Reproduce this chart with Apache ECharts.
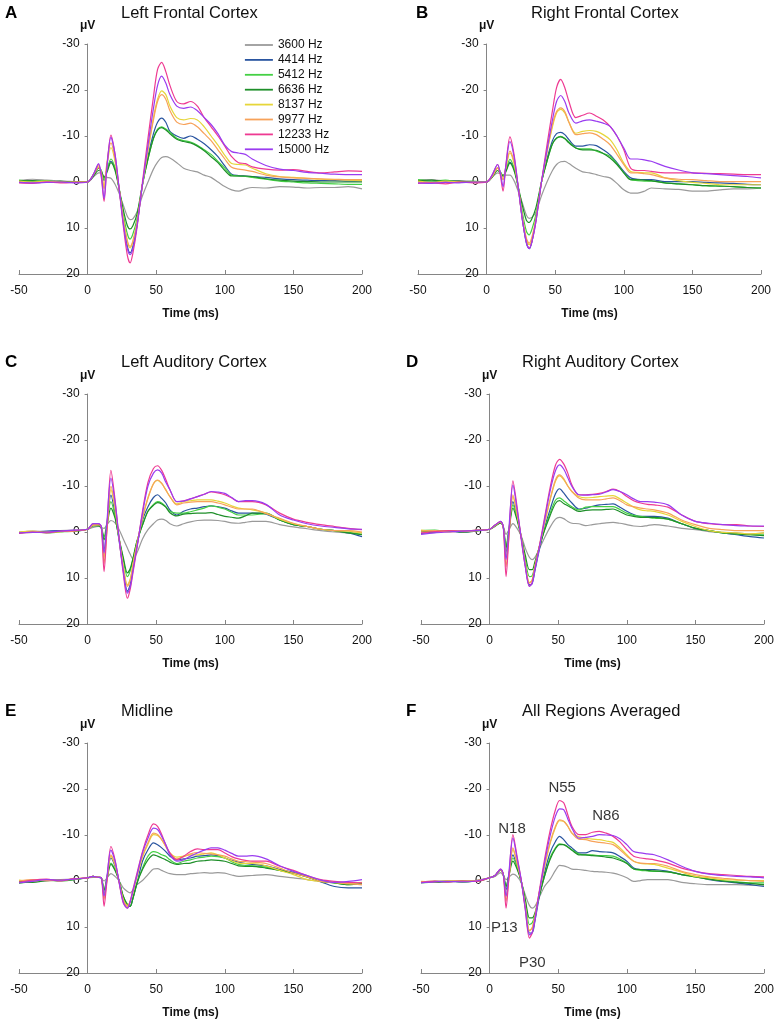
<!DOCTYPE html>
<html>
<head>
<meta charset="utf-8">
<script src="https://cdn.jsdelivr.net/npm/echarts@6/dist/echarts.min.js"></script>
<style>
html,body{margin:0;padding:0;background:#fff;}
#chart{width:778px;height:1023px;}
</style>
</head>
<body>
<div id="chart"></div>
<script>
// ---------- DATA ----------
const time = [-50,-40,-30,-20,-10,0,4,8,10,12,14,17,20,23,26,29,31,33,36,40,44,48,51,54,57,60,65,70,75,80,85,90,95,100,105,110,115,120,130,140,150,160,170,180,190,200];

const frequencies = ['3600 Hz','4414 Hz','5412 Hz','6636 Hz','8137 Hz','9977 Hz','12233 Hz','15000 Hz'];

const xTicks = [-50, 0, 50, 100, 150, 200];
const yTicks = [-30, -20, -10, 0, 10, 20];

// each panel: one array per frequency, in the order of `frequencies`, values in µV at `time`
const leftFrontal = [
  [-0.3,-0.6,-0.4,-0.2,-0.1, 0,-1,-2,-2,-1.2,-1,-0.8,0.5,2.5,5,7.5,8.2,8,6.5,3,0,-2.8,-4.3,-5.3,-5.5,-5.2,-4.2,-3,-2.5,-2.2,-1.5,-1,0,1,1.7,2,1.5,1.2,1.3,1,1.1,1.3,1.2,1.2,1,1.5],
  [0,-0.2,0.1,-0.1,0, 0,-1.2,-3,-2.5,-0.3,-2.5,-4.5,-3,1.5,8.5,14,15.4,14,9.5,0.5,-5.5,-10.5,-13,-13.9,-13,-11,-10,-9.5,-10,-9.3,-8.3,-7,-5.5,-3.5,-1.7,-1.4,-1.3,-1.2,-1,-0.7,-0.5,-0.4,-0.3,-0.3,-0.2,-0.2],
  [-0.4,-0.2,-0.3,0,-0.1, 0,-1.5,-3,-2.5,-0.5,-2.5,-5,-3,1.5,7,11.3,12.4,11.3,8,0.5,-5,-9.5,-11.5,-12,-11.5,-10.8,-9.5,-9,-8.7,-8,-7,-6,-4.5,-3,-1.5,-1.3,-1.2,-1,-0.6,-0.2,0,0.2,0.3,0.4,0.5,0.5],
  [-0.2,-0.3,0,-0.2,0, 0,-1.2,-2.5,-2.2,-1,-2,-4.2,-2.5,1.5,6,9.5,10.2,9.5,7,0.5,-5,-9.5,-11.3,-11.8,-11.3,-10.5,-9.3,-8.8,-8.5,-7.8,-6.8,-5.5,-4.2,-2.5,-1.3,-1.3,-1.3,-1.2,-0.7,-0.4,-0.2,-0.1,0,0,0,0],
  [-0.2,0,-0.2,0.1,0, 0,-1.5,-3.5,-2,1,-3.5,-7.5,-4.5,1.5,8,13,14.3,13,9,0.5,-7,-14,-18,-19.8,-19,-16.5,-14,-13.5,-13.8,-13.5,-12,-10,-8,-5.8,-4,-3.8,-3.7,-3,-1.8,-1.2,-1,-0.8,-0.6,-0.5,-0.4,-0.3],
  [0,0.2,-0.1,0,0.1, 0,-1.5,-3.2,-2,1.5,-4,-8.5,-5,1.5,8,12.8,14,12.8,8.8,0.5,-7,-13.5,-17.5,-19,-18,-15.5,-13,-12.5,-12.8,-12,-10.5,-9,-7,-5,-3.2,-2.8,-2.6,-2.3,-1.5,-1.1,-0.9,-0.8,-0.7,-0.6,-0.5,-0.5],
  [0.2,0.3,0,0.2,0.1, 0,-1.5,-3.8,-1,4.2,-3,-10.2,-6,1.5,9.5,16,17.6,15.5,10,0,-9.5,-18.5,-24.5,-26,-24,-21,-17.5,-17,-17.5,-16.5,-14,-12,-10,-7.8,-5.5,-4.2,-4,-3.3,-2.8,-2.6,-2.7,-2.3,-2,-2.2,-2.4,-2.3],
  [0.1,0.2,0.1,0,0.2, 0,-1.5,-4,-1.5,3.6,-3,-9.7,-6,1.5,9,14.5,15.8,14.5,9.5,0.5,-8,-16,-21,-23,-21.5,-19,-16.5,-16,-16.3,-15.5,-14,-12.5,-10.5,-8,-6.6,-6.3,-6,-5,-3.6,-2.8,-2.5,-2.1,-1.9,-1.7,-1.6,-1.6]
];

const rightFrontal = [
  [-0.3,-0.5,-0.2,-0.3,-0.1, 0,-1,-2,-1.8,-1.5,-1.5,-1.5,-0.3,2,4.5,7.2,7.9,7.7,6.5,3,0,-2.5,-3.8,-4.4,-4.5,-4,-3,-2.2,-2,-1.6,-1.2,-0.9,0.3,1.7,2.4,2.4,2,1.3,1.5,1.6,2,2,1.7,1.5,1.5,1.3],
  [-0.2,0,-0.3,-0.1,0, 0,-1.2,-3,-2.2,-1.2,-2.5,-4.3,-3,1,8,13.3,14.5,13,8,0,-5,-9,-10.5,-10.8,-10.3,-9.2,-7.8,-7.8,-8.1,-7.9,-7,-5.9,-4.2,-2.3,-0.9,-0.6,-0.5,-0.5,-0.1,-0.1,-0.1,0.1,0.2,0.3,0.5,0.6],
  [-0.5,-0.2,-0.4,0,-0.2, 0,-1.2,-3,-2.2,-1.3,-2.5,-4.9,-3,1,6.5,10.7,11.5,10.3,7,0,-4.5,-8.3,-9.6,-9.9,-9.5,-8.7,-7.4,-7.2,-7.2,-6.7,-6.2,-5.6,-4,-2,-0.5,-0.3,-0.2,-0.2,0.2,0.4,0.6,0.8,0.9,1,1.2,1.3],
  [-0.3,-0.4,-0.1,-0.2,0, 0,-1,-2.5,-2,-1.3,-2.2,-4.1,-2.5,1,5,8.3,8.8,8,5.5,0,-4.5,-8.3,-9.5,-9.8,-9.4,-8.5,-7.4,-7,-7,-6.9,-6.2,-5.2,-3.8,-2,-0.5,-0.5,-0.4,-0.3,0.2,0.4,0.6,0.8,0.9,1,1.2,1.3],
  [-0.2,0.1,-0.2,0,0.1, 0,-1.2,-3,-2,-0.5,-3,-6.3,-4,1,7.5,12.5,13.6,12.5,8,0,-6.5,-12,-15,-15.8,-15,-13,-10.6,-11,-11.2,-11,-10.3,-9.2,-7,-4.1,-2.3,-2.1,-2,-2,-0.9,-0.3,0.1,0.3,0.6,0.6,0.6,0.6],
  [0,0.2,0,0.1,0, 0,-1.2,-3,-2,-0.5,-3.2,-6.7,-4.5,1,7.5,12.2,13.3,12,8,0,-6.5,-12.5,-15.3,-16.1,-15.3,-13,-10.3,-10.5,-10.7,-10.3,-9.3,-8.1,-6,-3.8,-2,-2,-1.8,-1.6,-0.9,-0.6,-0.5,-0.3,-0.1,-0.1,-0.1,-0.1],
  [0.3,0.2,0.4,0,0.2, 0,-1.5,-3.8,-1.5,2,-3.5,-9.8,-6,1,8,13,14.3,13,8.5,0,-8,-15.5,-20.5,-22.3,-20.5,-17.5,-14,-14.5,-15,-14.3,-13.5,-12.1,-10,-7,-3,-2.5,-2.5,-2.3,-2,-2,-2,-1.9,-1.8,-1.7,-1.6,-1.6],
  [0.2,0.3,0.1,0.2,0, 0,-1.5,-3.8,-2,1,-3.5,-8.8,-5.5,1,8,13.2,14.5,13,8.5,0,-7,-13.5,-17.5,-18.8,-17.5,-15,-12.8,-13.3,-13.5,-13.2,-12.8,-12.1,-10,-7.4,-5,-5,-4.8,-4.5,-3.4,-2.6,-2,-1.8,-1.6,-1.4,-1.2,-0.9]
];

const leftAuditory = [
  [0.1,-0.2,-0.1,-0.3,-0.4, -0.6,-1,-1.2,-1,-0.8,-1.5,-2.5,-2,-0.5,1.5,3.5,4.8,5.8,4.5,1.5,-0.5,-1.8,-2.6,-2.8,-2.5,-1.8,-1.3,-1.8,-2.2,-2.5,-2.6,-2.6,-2.5,-2.3,-2,-1.9,-2.1,-2.3,-2.3,-1.6,-1.1,-0.7,-0.3,0,0.2,0.2],
  [0.2,0,-0.2,-0.3,-0.3, -0.6,-1.5,-1.5,-1,3.9,-0.9,-8,-4,2,8,12.9,11.5,8,3,-2.5,-5.5,-7.5,-8.1,-7.3,-6.3,-4.8,-3.7,-4.5,-5,-5.2,-5.5,-5.7,-5.5,-5.2,-4.6,-4.1,-4.1,-4.1,-3.9,-2.6,-1.6,-1.2,-0.6,-0.3,0.2,1],
  [0.1,-0.1,0.2,0,-0.2, -0.6,-1.5,-1.5,-1,1,-2,-6.6,-3.5,1.5,6,9.7,8.5,6,2,-1.5,-4.5,-6,-6.6,-6.3,-5.5,-4.5,-4.1,-4.1,-4.4,-4.8,-5.2,-5.7,-5.4,-5,-4.3,-3.7,-3.7,-3.7,-4,-2.6,-1.6,-1.2,-0.6,-0.3,0.1,0.5],
  [0.2,0,0.1,-0.2,-0.2, -0.6,-1.3,-1.3,-0.8,1.7,-1.1,-5.2,-3,1.5,5.5,8.9,8,5.8,2,-1.5,-4.5,-5.8,-6.4,-6.1,-5.4,-4.2,-3.5,-3.9,-4,-4.1,-4.1,-4.2,-3.8,-3.4,-3.2,-3,-3.5,-4.1,-4.1,-2.6,-1.6,-1.2,-0.6,-0.3,0.2,0.6],
  [0,-0.2,0.1,-0.1,-0.3, -0.6,-1.5,-1.6,-1.2,5.5,-0.4,-9.2,-5,1.5,7.5,11.5,10.3,7.2,2.5,-3,-7.5,-10.5,-11.2,-10.5,-9.2,-7.7,-6.1,-6.6,-6.8,-7,-7,-7,-6.7,-6.3,-5.7,-5.2,-5,-4.8,-4.1,-2.8,-1.8,-1.2,-0.6,-0.3,-0.2,0.2],
  [0.2,0.1,0,-0.1,-0.2, -0.6,-1.5,-1.6,-1.2,6.8,0.1,-9.9,-5.5,1.5,7.5,11.8,10.5,7.3,2.5,-3,-7.3,-10.5,-11.3,-10.6,-9.1,-7.7,-5.9,-6.3,-6.5,-6.6,-6.6,-6.6,-6.3,-5.9,-5.4,-5,-5,-5,-4,-3,-1.9,-1.2,-0.6,-0.3,-0.3,0],
  [0.3,0,0.2,-0.2,-0.3, -0.6,-1.8,-1.8,-1,8.6,-0.2,-13.4,-7,1.5,9,14.4,12.5,9,3.5,-4.5,-10.8,-13.8,-14.4,-13.4,-11.4,-9.2,-6.6,-6.8,-7.2,-7.7,-8.2,-8.7,-8.5,-8.1,-7.4,-6.6,-6.6,-6.6,-5.9,-4.1,-2.8,-2.1,-1.6,-1.2,-0.8,-0.5],
  [0.2,0.1,0,-0.2,-0.4, -0.6,-1.8,-1.8,-1.2,4.6,-1.9,-11.7,-6.5,1.5,8.5,13.3,12,8.5,3.2,-4,-10,-12.8,-13.5,-12.8,-10.8,-9.2,-6.6,-6.7,-7.2,-7.7,-8.2,-8.8,-8.7,-8.4,-7.5,-6.6,-6.8,-6.8,-6,-3.7,-2.6,-1.8,-1.3,-1,-0.7,-0.6]
];

const rightAuditory = [
  [-0.2,0,-0.3,-0.2,-0.4, -0.6,-1.2,-2,-1.2,0.5,-0.4,-1.8,-0.8,0.8,3.5,5.5,6,5.5,3.8,1.3,-1,-2.8,-3.2,-2.9,-2.3,-1.9,-1.8,-1.4,-1.6,-1.8,-2,-2.1,-1.9,-1.6,-1.3,-1.2,-1.4,-1.6,-1.3,-0.8,-0.5,-0.1,0.1,0.2,0.4,0.2],
  [0.3,0,-0.2,0.1,-0.3, -0.6,-1.4,-2.2,-1,4.5,0.1,-6.6,-3.3,1,7,11.5,11.2,8.5,4.2,-0.8,-4.8,-8.3,-9.4,-8.5,-7.3,-6.3,-5,-5.2,-5.6,-5.9,-6,-6.1,-5.4,-4.5,-3.8,-3.4,-3.4,-3.4,-3,-1.8,-0.8,-0.3,0.2,0.6,1,1.3],
  [-0.3,-0.4,-0.1,-0.2,-0.3, -0.6,-1.4,-2,-1,3,-0.6,-5.9,-3,1,6,9.7,9.5,7.5,3.5,-0.5,-4,-6.9,-7.4,-6.8,-6.1,-5.5,-4.8,-5.4,-5.5,-5.5,-5.5,-5.5,-4.9,-4.1,-3.6,-3.4,-3.2,-3,-2.8,-1.8,-0.8,-0.3,0.2,0.4,0.6,0.6],
  [-0.2,-0.1,-0.3,0,-0.2, -0.6,-1.3,-2,-1,3.5,0,-5.2,-2.6,1,5,8.2,8.2,6.5,3.5,-0.3,-3.5,-6.2,-6.8,-6.2,-5.7,-5.2,-4.5,-4.7,-4.8,-4.8,-4.9,-5,-4.4,-3.7,-3.4,-3.2,-3.2,-3.2,-2.8,-1.8,-0.8,-0.3,0.2,0.4,0.6,0.8],
  [-0.4,-0.2,-0.3,-0.1,-0.3, -0.6,-1.4,-2.2,-1.2,5.5,0.2,-7.7,-3.8,1,7,11,10.5,7.5,3.5,-1.8,-6.8,-11,-12.2,-11.4,-10,-8.8,-7.7,-7.4,-7.5,-7.7,-7.8,-7.9,-7.2,-6.3,-5.4,-4.8,-4.6,-4.5,-3.7,-2.3,-1.2,-0.3,0.1,0.2,0.4,0.2],
  [-0.2,-0.3,0,-0.2,-0.3, -0.6,-1.5,-2.2,-1,7.5,1.3,-8.1,-4,1,7,11.1,10.5,7.5,3.5,-1.8,-7,-11.3,-12.4,-11.6,-10,-8.8,-7.4,-7,-7,-7,-7.2,-7.4,-6.8,-5.9,-5.5,-5.2,-5,-4.8,-4.1,-2.6,-1.6,-0.8,-0.5,-0.3,-0.3,-0.3],
  [0.2,-0.1,-0.3,-0.2,-0.4, -0.6,-1.5,-2.3,-1,9.7,1.4,-11.1,-5.5,1.5,7.5,11.8,11,8,3.5,-3,-9.5,-14.5,-15.8,-14.8,-12.8,-10.2,-8.1,-8.1,-8.2,-8.4,-8.8,-9.3,-8.8,-7.7,-6.8,-6.3,-6,-5.9,-5.4,-3.7,-2.3,-1.8,-1.6,-1.6,-1.3,-1.2],
  [0.5,0.2,0,-0.2,-0.3, -0.6,-1.5,-2.3,-1.2,6,-0.5,-10.2,-5,1.2,7.5,11.8,11.2,8.2,3.8,-2.5,-8.8,-13.3,-14.6,-13.7,-11.8,-9.9,-8.1,-8,-8.1,-8.2,-8.7,-9.2,-8.8,-8.1,-7.2,-6.6,-6.6,-6.5,-5.9,-3.7,-2.3,-1.9,-1.6,-1.4,-1.3,-1.3]
];

const midline = [
  [0.2,-0.2,0,-0.3,-0.4, -0.7,-0.8,-0.8,-0.5,0,-0.6,-1.6,-1,0,1.5,2.3,2.6,2,0.8,-0.1,-1.4,-2.6,-2.7,-2.3,-1.9,-1.6,-1.4,-1.4,-1.6,-1.7,-1.8,-1.7,-1.8,-1.7,-1.3,-1,-1.1,-1.2,-1.4,-1,-0.7,-0.3,0.1,0.3,0.5,0.8],
  [0.3,0,-0.2,-0.1,-0.4, -0.7,-1,-0.8,-0.7,3,-0.6,-5,-3.2,0,4,5.3,5.5,3.8,0.5,-4.3,-6.8,-8.3,-7.9,-7.2,-6.4,-5.4,-4.6,-4.8,-5,-5.4,-5.5,-5.7,-5.5,-5,-4.5,-4.1,-3.8,-3.6,-3.3,-2.5,-1.9,-1,0.2,1.2,1.5,1.5],
  [0.5,0.1,-0.2,0,-0.3, -0.7,-1,-0.8,-0.7,1.9,-0.5,-3.9,-2.5,0,3.3,5,5.5,3.7,0.4,-2.8,-5.4,-6.4,-6.2,-5.7,-5.4,-4.6,-3.8,-4.3,-4.6,-5,-5.2,-5.4,-5.3,-5,-4.2,-3.6,-3.4,-3.3,-3,-2.3,-1.7,-0.9,0.1,0.4,0.8,0.5],
  [0.2,0.3,-0.1,-0.2,-0.3, -0.7,-1,-0.8,-0.7,2,-0.2,-3.6,-2.3,0,3.3,5.2,5.5,3.8,0.5,-2.5,-4.6,-5.7,-5.4,-5,-4.6,-4.1,-3.6,-3.8,-3.9,-4.3,-4.4,-4.6,-4.5,-4.3,-3.8,-3.3,-3.2,-3.2,-2.8,-2.3,-1.7,-0.9,0.1,0.4,0.8,0.6],
  [-0.2,0,-0.3,-0.1,-0.5, -0.7,-1,-0.8,-0.7,3.5,-0.1,-5.4,-3.5,0.2,4,5.3,4.5,2.5,-1,-5.2,-8,-10.1,-9.9,-9,-7.5,-6.1,-5.2,-5.4,-5.7,-5.7,-5.9,-6.1,-5.7,-5,-4.4,-3.9,-3.8,-3.8,-3.3,-2.3,-1.4,-0.3,0.1,0.3,0.6,0.3],
  [0,-0.3,-0.1,-0.2,-0.4, -0.7,-1,-0.8,-0.7,4,0.1,-5.7,-3.6,0.2,4.2,5.5,4.5,2.5,-1,-5.4,-8.3,-10.4,-10.1,-9,-7.5,-6,-4.8,-5.3,-5.9,-6.2,-6,-5.9,-5.7,-5.4,-4.8,-4.3,-4.2,-4.1,-3.8,-2.8,-1.7,-0.9,0.1,0.3,0.6,0.8],
  [0.3,-0.2,-0.4,0,-0.5, -0.7,-1,-0.8,-0.7,5.5,0.3,-7.5,-4.6,0.4,4.8,5.9,4.4,1.9,-1.7,-6.4,-10,-12.4,-11.9,-10.1,-7.9,-6.1,-4.6,-5.4,-6.4,-7,-6.8,-6.8,-6.8,-6.1,-5.3,-4.8,-4.5,-4.3,-4.3,-3.2,-2.3,-1.2,-0.3,0.1,0.3,0.4],
  [0.4,0.1,-0.3,-0.2,-0.4, -0.7,-1,-0.8,-0.7,3.3,-0.7,-6.7,-4.3,0.3,4.6,5.9,4.6,2.2,-1.3,-6.1,-9.3,-11.5,-11.2,-9.7,-7.9,-5.7,-4.3,-4.6,-5.4,-6.1,-6.7,-7.2,-7.2,-6.7,-6,-5.4,-5.4,-5.5,-4.8,-3.3,-2.1,-1.2,-0.2,0.3,0.1,-0.3]
];

const allRegions = [
  [0.2,0,0.3,-0.1,0, -0.7,-1,-1.8,-1.2,-0.3,-0.8,-1.5,-1,0.4,3,5.3,5.9,5.5,3.7,1.2,-0.3,-2.3,-3.4,-3.3,-3,-2.6,-2.5,-2.3,-2.1,-2,-1.9,-1.7,-1.3,-0.7,0.1,-0.1,-0.3,-0.3,-0.3,0.3,0.6,0.8,0.8,0.8,0.9,0.9],
  [0.3,0.1,0,0.2,-0.1, -0.7,-1.2,-2.5,-1.4,1.9,-1.2,-5.7,-3.3,0,5.1,11.3,11.3,8.8,3.8,-1.7,-6.1,-8.6,-9.7,-9,-7.9,-7.2,-6.1,-6.1,-6.6,-6.4,-6.3,-6.1,-5.3,-4.3,-2.8,-2.5,-2.5,-2.5,-2.1,-1.4,-1,-0.3,0.1,0.4,0.8,1.2],
  [0.4,0.2,0,0.3,0, -0.7,-1.2,-2.5,-1.4,1.2,-1.3,-5,-3,0,4.1,9.5,9.1,7.5,3.5,-1,-5,-7.2,-8.1,-7.9,-7.4,-6.8,-5.9,-5.7,-5.7,-5.5,-5.5,-5.4,-4.8,-3.9,-2.6,-2.3,-2.2,-2.1,-2,-1.4,-0.9,-0.4,-0.1,0.2,0.4,0.4],
  [0.2,0.3,0.1,0,0.1, -0.7,-1.2,-2.4,-1.4,1.2,-1,-4.3,-2.6,0,4,8,8,7,3.5,-1,-4.6,-7,-7.9,-7.9,-7.4,-6.7,-5.7,-5.7,-5.5,-5.4,-5.2,-5,-4.5,-3.8,-2.6,-2.5,-2.3,-2.2,-2,-1.4,-0.9,-0.4,0,0.3,0.5,0.8],
  [0.1,0.2,-0.1,0,0, -0.7,-1.2,-2.5,-1.4,3.3,-0.7,-6.8,-3.8,-0.2,5.5,10.7,10.2,7.8,2.8,-3,-8,-11.6,-13.1,-13,-11.9,-10.4,-9.6,-9.3,-9.1,-9,-8.7,-8.4,-7.2,-5.7,-4.3,-3.8,-3.7,-3.6,-2.8,-1.9,-1,-0.7,-0.3,-0.2,-0.1,-0.1],
  [0.2,0,0.1,0.1,-0.1, -0.7,-1.2,-2.5,-1.4,4.4,-0.3,-7.2,-4,-0.2,5.5,10.9,10.2,7.8,2.8,-3.2,-8.3,-11.9,-13.3,-13,-11.9,-10.4,-9.1,-9,-8.6,-8.4,-8.2,-7.9,-6.8,-5.4,-4.3,-3.9,-3.8,-3.8,-3.2,-2.1,-1.4,-0.9,-0.6,-0.3,-0.1,0.1],
  [0.3,0.1,0.2,0,0.1, -0.7,-1.2,-2.6,-1.4,5.9,-0.5,-10.1,-5.4,-0.3,6.2,12.4,11.3,8.4,2.6,-4.6,-10.8,-15.5,-17.5,-17,-14.4,-11.9,-10.1,-10.1,-10.6,-10.8,-10.4,-9.7,-8.5,-6.8,-5.4,-5,-4.8,-4.6,-3.9,-2.8,-2.1,-1.6,-1.4,-1.2,-1,-0.9],
  [0.4,0.2,0.1,0.2,0, -0.7,-1.2,-2.6,-1.4,3.3,-1.7,-9.3,-5,-0.3,6,11.7,11.2,8.5,3,-3.9,-9.7,-14.1,-15.7,-15.5,-13.5,-11.5,-9.3,-9.5,-9.7,-10.1,-10,-9.9,-9.2,-7.9,-6.4,-6.1,-5.9,-5.7,-4.6,-3.2,-2.1,-1.5,-1.2,-1,-0.9,-0.7]
];

// peak labels of panel F: [text, time (ms), µV]
const peakNames = ['N18', 'N55', 'N86', 'P13', 'P30'];
const peakTimes = [16.3, 52.9, 84.8, 10.7, 31.1];
const peakValues = [-11.4, -20.3, -14.2, 10.1, 17.8];

// ---------- STYLE / LAYOUT ----------
const colors = ['#9a9a9a','#2a55a0','#44d044','#1f8f2a','#e6d63a','#f7a25a','#ee3a92','#9a3cf0'];
const FONT = '"Liberation Sans", Arial, sans-serif';

const panels = [
  {data: leftFrontal,   letter:'A', title:'Left Frontal Cortex',   grid:{left:19,  top:44}, letterX:5,   titleX:121, rowY:13},
  {data: rightFrontal,  letter:'B', title:'Right Frontal Cortex',  grid:{left:418, top:44}, letterX:416, titleX:531, rowY:13},
  {data: leftAuditory,  letter:'C', title:'Left Auditory Cortex',  grid:{left:19,  top:394}, letterX:5,  titleX:121, rowY:362},
  {data: rightAuditory, letter:'D', title:'Right Auditory Cortex', grid:{left:421, top:394}, letterX:406, titleX:522, rowY:362},
  {data: midline,       letter:'E', title:'Midline',               grid:{left:19,  top:743}, letterX:5,  titleX:121, rowY:711},
  {data: allRegions,    letter:'F', title:'All Regions Averaged',  grid:{left:421, top:743}, letterX:406, titleX:522, rowY:711}
];
const GW = 343, GH = 230;
// pixel offset of the y axis (it sits at time 0)
const xMin = xTicks[0], xMax = xTicks[xTicks.length-1];
const yAxisShift = (0 - xMin) / (xMax - xMin) * GW;

const axisColor = '#858585';
const grids = [], xAxes = [], yAxes = [], series = [], graphics = [];

panels.forEach((p, i) => {
  grids.push({left: p.grid.left, top: p.grid.top, width: GW, height: GH,
              containLabel: false, outerBoundsMode: 'none'});
  xAxes.push({
    type: 'value', gridIndex: i, min: xMin, max: xMax,
    interval: xTicks[1]-xTicks[0],
    axisLine: {show: true, onZero: false, lineStyle: {color: axisColor, width: 1}},
    axisTick: {show: true, inside: true, length: 4, lineStyle: {color: axisColor}},
    axisLabel: {fontSize: 12, color: '#111', margin: 11, fontFamily: FONT},
    splitLine: {show: false},
    name: 'Time (ms)', nameLocation: 'middle', nameGap: 34,
    nameTextStyle: {fontSize: 12, fontWeight: 'bold', color: '#111', fontFamily: FONT}
  });
  yAxes.push({
    type: 'value', gridIndex: i, inverse: true, min: yTicks[0], max: yTicks[yTicks.length-1],
    interval: yTicks[1]-yTicks[0], position: 'left', offset: -yAxisShift,
    axisLine: {show: true, onZero: false, lineStyle: {color: axisColor, width: 1}},
    axisTick: {show: true, inside: false, length: 3, lineStyle: {color: axisColor}},
    axisLabel: {fontSize: 12, color: '#111', margin: 8, fontFamily: FONT},
    splitLine: {show: false}
  });
  p.data.forEach((vals, k) => {
    series.push({
      type: 'line', name: frequencies[k], xAxisIndex: i, yAxisIndex: i,
      data: time.map((t, j) => [t, vals[j]]),
      symbol: 'none', showSymbol: false, smooth: 0.3,
      lineStyle: {width: 1.2, color: colors[k]}, itemStyle: {color: colors[k]},
      z: 2 + k, silent: true
    });
  });
  graphics.push({type: 'text', x: p.letterX, y: p.rowY,
    style: {text: p.letter, font: 'bold 17px ' + FONT, fill: '#000', verticalAlign: 'middle', align: 'left'}});
  graphics.push({type: 'text', x: p.titleX, y: p.rowY,
    style: {text: p.title, font: '16.5px ' + FONT, fill: '#111', verticalAlign: 'middle', align: 'left'}});
  // µV unit above the y axis
  graphics.push({type: 'text', x: p.grid.left + yAxisShift, y: p.grid.top - 18,
    style: {text: 'μV', font: 'bold 12px ' + FONT, fill: '#111', align: 'center', verticalAlign: 'middle'}});
});

// peak annotations on panel F
series.push({
  type: 'scatter', xAxisIndex: 5, yAxisIndex: 5, silent: true, z: 20,
  symbolSize: 1, itemStyle: {color: 'transparent'},
  label: {show: true, position: 'inside', formatter: q => q.data.name,
          fontSize: 15, color: '#000', fontFamily: FONT},
  data: peakNames.map((n, j) => ({name: n, value: [peakTimes[j], peakValues[j]]}))
});

const chart = echarts.init(document.getElementById('chart'), null, {renderer: 'canvas'});
chart.setOption({
  animation: false,
  backgroundColor: '#fff',
  grid: grids, xAxis: xAxes, yAxis: yAxes, series: series,
  legend: {
    data: frequencies, orient: 'vertical', left: 244, top: 39, padding: 0,
    itemWidth: 28, itemHeight: 14, itemGap: 2.9,
    lineStyle: {width: 1.8},
    itemStyle: {opacity: 0},
    textStyle: {fontSize: 12, color: '#111', fontFamily: FONT},
    selectedMode: false
  },
  graphic: graphics
});
</script>
</body>
</html>
